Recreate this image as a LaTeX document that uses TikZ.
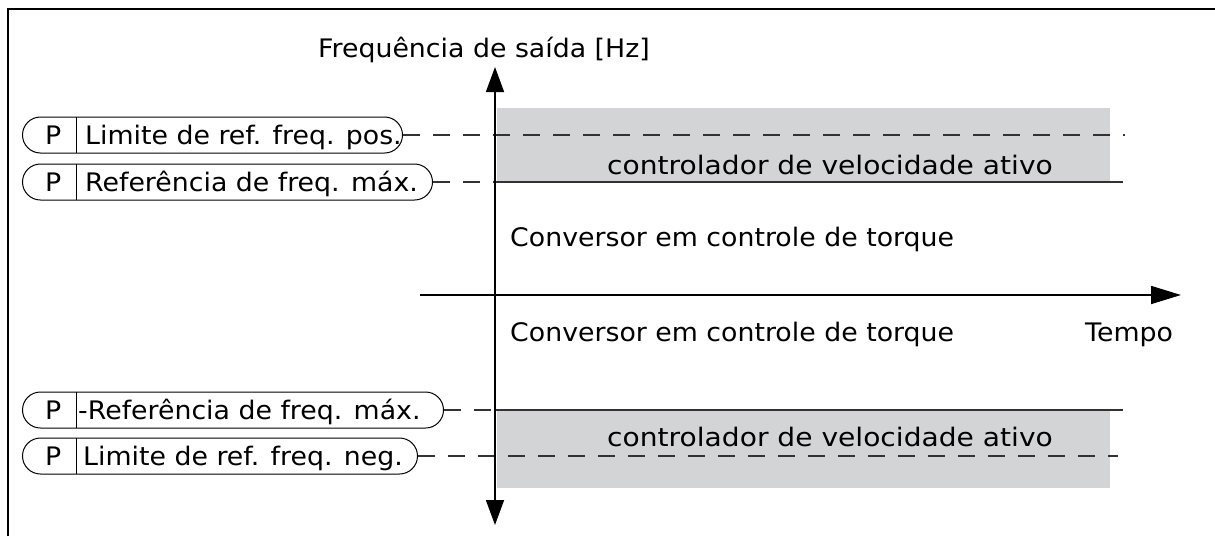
\documentclass[tikz,border=0pt]{standalone}
\usepackage{fontspec}
\setmainfont[FakeStretch=1.05]{DejaVu Sans}
\usetikzlibrary{arrows.meta}
\definecolor{zone}{RGB}{211,212,214}
\definecolor{linegray}{RGB}{50,50,50}
\begin{document}
\begin{tikzpicture}[x=1pt,y=-1pt,
  txt/.style={font=\fontsize{25.5}{30}\selectfont, inner sep=0pt, anchor=base west},
  pbox/.style={draw, line width=1pt, rounded corners=18pt, minimum height=36pt, inner sep=0pt, anchor=west},
  divider/.style={line width=1pt},
  dashline/.style={line width=1.3pt, color=linegray, dash pattern=on 17pt off 13pt},
  solidline/.style={line width=1.3pt, color=linegray},
  axis/.style={line width=1.6pt, color=black},
  zonebox/.style={fill=zone, draw=none}
]
\useasboundingbox (0,0) rectangle (1215,536);
% frame
\draw[line width=1.8pt] (8,536) -- (8,9) -- (1215,9);

% grey zones
\fill[zonebox] (497,108) rectangle (1110,182);
\fill[zonebox] (497,410) rectangle (1110,488);

% parameter boxes
\node[pbox, minimum width=380pt] (b1) at (22,135) {};
\node[pbox, minimum width=410pt] (b2) at (22,182) {};
\node[pbox, minimum width=421pt] (b3) at (22,410) {};
\node[pbox, minimum width=395pt] (b4) at (22,456) {};
\foreach \b in {b1,b2,b3,b4}{
  \draw[divider] (\b.north west) ++(54,0) -- ++(0,36);
}
\node[txt] (p1) at (45,144) {P};
\node[txt] (p2) at (45,191) {P};
\node[txt] (p3) at (45,419) {P};
\node[txt] (p4) at (45,465) {P};
\node[txt] (t1) at (85,144) {Limite de ref. freq. pos.};
\node[txt] (t2) at (85,191) {Referência de freq. máx.};
\node[txt] (t3) at (78,419) {-Referência de freq. máx.};
\node[txt] (t4) at (83,465) {Limite de ref. freq. neg.};

% level lines
\coordinate (e1) at (1125,135);
\coordinate (a2) at (495,182);
\coordinate (e2) at (1123,182);
\coordinate (a3) at (495,410);
\coordinate (e3) at (1123,410);
\coordinate (e4) at (1118,456);
\draw[dashline] (b1.east) -- (e1);
\draw[dashline] (b2.east) -- (a2);
\draw[solidline] (a2) -- (e2);
\draw[dashline] (b3.east) -- (a3);
\draw[solidline] (a3) -- (e3);
\draw[dashline] (b4.east) -- (e4);

% axes
\coordinate (ytop) at (495,67);
\coordinate (ybot) at (495,525);
\coordinate (xl) at (420,295);
\coordinate (xr) at (1181,295);
\draw[axis, {Triangle[length=25pt,width=18pt]}-{Triangle[length=25pt,width=18pt]}] (ybot) -- (ytop);
\draw[axis, -{Triangle[length=30pt,width=18pt]}] (xl) -- (xr);

% labels
\node[txt] (ylab) at (318,57) {Frequência de saída [Hz]};
\node[txt, anchor=base] (z1) at (830,174) {\scalebox{1.05}[1]{controlador de velocidade ativo}};
\node[txt, anchor=base] (z2) at (830,446) {\scalebox{1.05}[1]{controlador de velocidade ativo}};
\node[txt] (c1) at (510,246) {Conversor em controle de torque};
\node[txt] (c2) at (510,341) {Conversor em controle de torque};
\node[txt] (tempo) at (1085,341) {Tempo};
\end{tikzpicture}
\end{document}
